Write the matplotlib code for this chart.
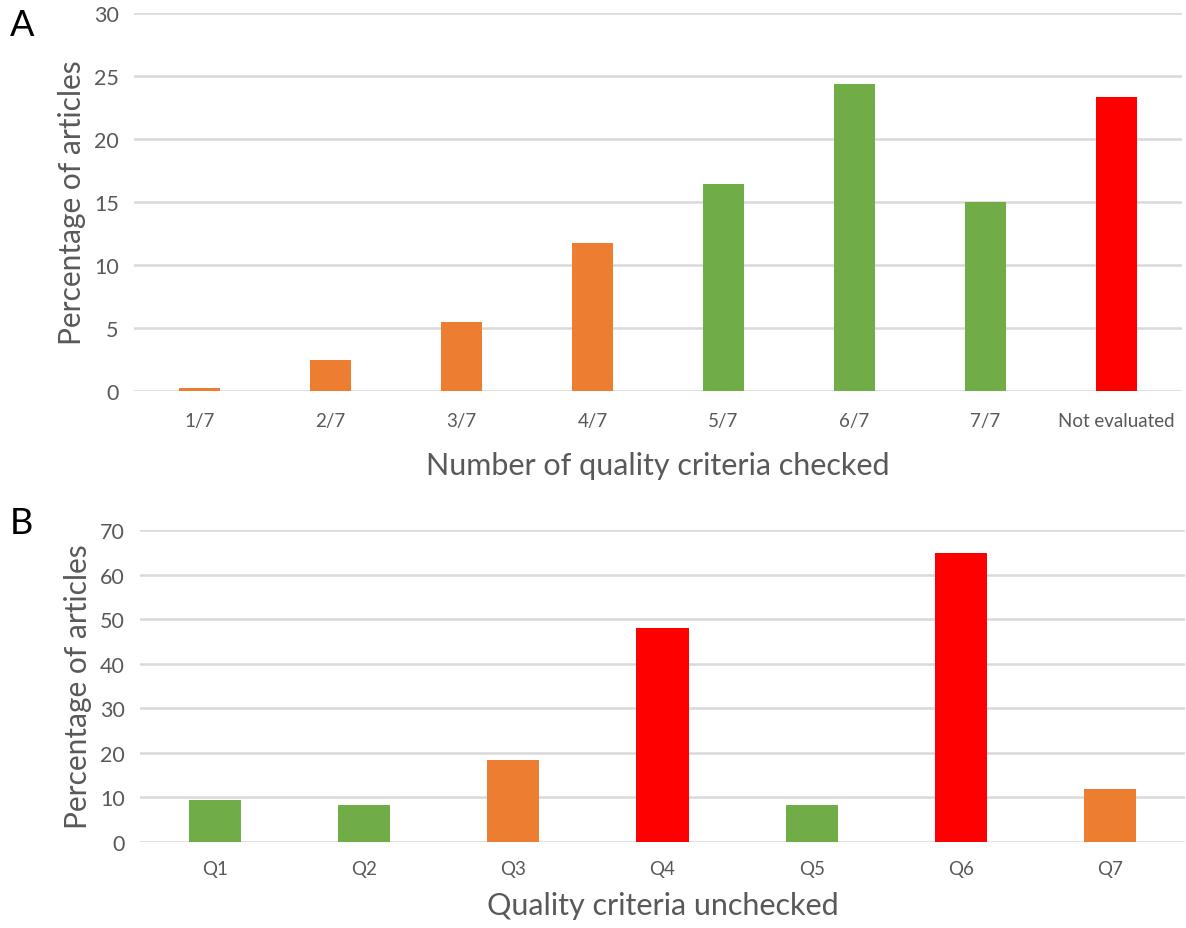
import matplotlib
matplotlib.use("Agg")
import matplotlib.pyplot as plt
import numpy as np

plt.rcParams['font.family'] = ['Lato', 'DejaVu Sans']

# Panel A data
cats_a = ["1/7", "2/7", "3/7", "4/7", "5/7", "6/7", "7/7", "Not evaluated"]
vals_a = [0.25, 2.5, 5.5, 11.75, 16.4, 24.4, 15.0, 23.3]
cols_a = ["#ED7D31", "#ED7D31", "#ED7D31", "#ED7D31", "#70AD47", "#70AD47", "#70AD47", "#FF0000"]
yticks_a = [0, 5, 10, 15, 20, 25, 30]

# Panel B data
cats_b = ["Q1", "Q2", "Q3", "Q4", "Q5", "Q6", "Q7"]
vals_b = [9.4, 8.2, 18.3, 48.0, 8.2, 64.8, 11.8]
cols_b = ["#70AD47", "#70AD47", "#ED7D31", "#FF0000", "#70AD47", "#FF0000", "#ED7D31"]
yticks_b = [0, 10, 20, 30, 40, 50, 60, 70]

W, H = 1186, 929
fig = plt.figure(figsize=(W / 100, H / 100), dpi=100)

grey = "#595959"
gridc = "#D9D9D9"

def style(ax, cats, yticks, xlabel, xfs, tpad, lpad):
    ax.set_ylim(yticks[0], yticks[-1])
    ax.set_xlim(-0.5, len(cats) - 0.5)
    ax.set_yticks(yticks)
    ax.set_xticks(range(len(cats)))
    ax.set_xticklabels(cats, fontsize=xfs, color=grey)
    ax.tick_params(axis='y', labelsize=15.5, labelcolor=grey, length=0, pad=11)
    ax.tick_params(axis='x', length=0, pad=tpad)
    for s in ax.spines.values():
        s.set_visible(False)
    ax.yaxis.grid(True, color=gridc, linewidth=1.8)
    ax.set_axisbelow(True)
    ax.set_ylabel("Percentage of articles", fontsize=21.5, color=grey, labelpad=6)
    ax.set_xlabel(xlabel, fontsize=22, color=grey, labelpad=lpad)

# Panel A
axA = fig.add_axes([134 / W, 1 - 392 / H, 1048 / W, 378 / H])
axA.bar(range(len(cats_a)), vals_a, width=0.31, color=cols_a)
style(axA, cats_a, yticks_a, "Number of quality criteria checked", 13.5, 15, 16)

# Panel B
axB = fig.add_axes([140 / W, 1 - 843 / H, 1045 / W, 312 / H])
axB.bar(range(len(cats_b)), vals_b, width=0.35, color=cols_b)
style(axB, cats_b, yticks_b, "Quality criteria unchecked", 13.5, 13, 10)

fig.text(10 / W, 1 - 25 / H, "A", fontsize=26, va='center', ha='left', color='black')
fig.text(10 / W, 1 - 524 / H, "B", fontsize=26, va='center', ha='left', color='black')

fig.savefig("out.png", dpi=100, facecolor='white')
